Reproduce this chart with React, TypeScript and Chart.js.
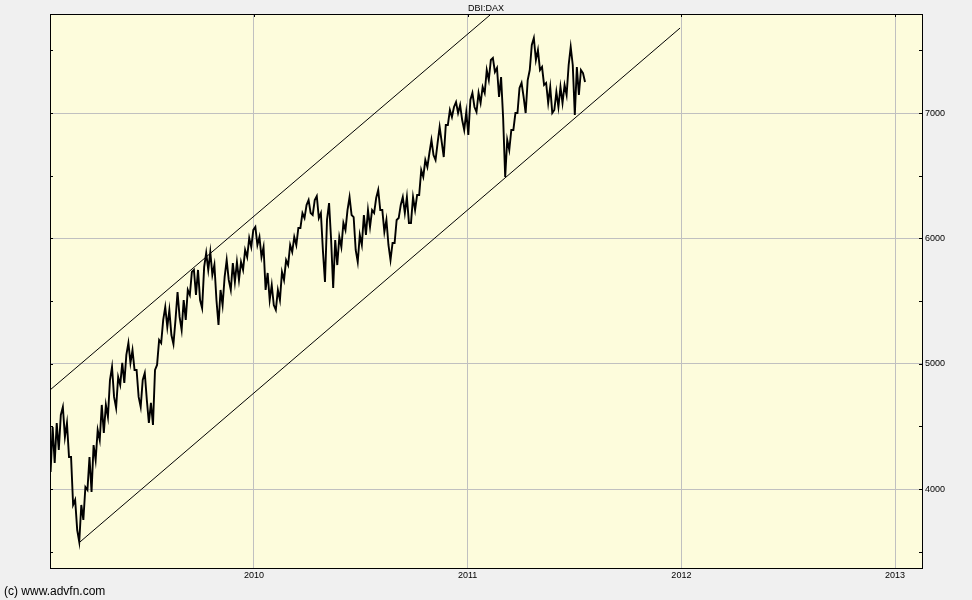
import { useEffect, useRef } from "react";
import { Chart, registerables } from "chart.js";

Chart.register(...registerables);

const TITLE = "DBI:DAX";
const COPYRIGHT = "(c) www.advfn.com";

// axis ranges (fractional years / index points)
const X_MIN = 2009.0454;
const X_MAX = 2013.126;
const Y_MIN = 3370;
const Y_MAX = 7790;

const yearTicks = [2010, 2011, 2012, 2013];
const priceTicks = [4000, 5000, 6000, 7000];
const minorPriceTicks = [3500, 4000, 4500, 5000, 5500, 6000, 6500, 7000, 7500];

// weekly ranges starting at the week of 17 Jan 2009
const firstWeek = 2009.0454;
const weeklyHigh = [
  4495, 4527, 4591, 4655, 4527, 4256, 3913, 3873, 4016, 4256,
  4351, 4471, 4671, 4671, 4870, 4974, 4894, 5006, 5070, 5165,
  5109, 4950, 4870, 4926, 4687, 4950, 5189, 5349, 5452, 5428,
  5349, 5572, 5508, 5588, 5732, 5748, 5748, 5772, 5883, 5891,
  5788, 5588, 5692, 5827, 5803, 5811, 5811, 5907, 6003, 6067,
  6091, 6011, 5931, 5724, 5628, 5588, 5732, 5827, 5947, 6011,
  6083, 6202, 6266, 6306, 6306, 6338, 6202, 6150, 6282, 5987,
  6011, 6123, 6226, 6330, 6170, 6027, 6186, 6226, 6226, 6322,
  6386, 6226, 6147, 5963, 6147, 6266, 6330, 6330, 6330, 6346,
  6545, 6625, 6681, 6785, 6761, 6888, 6904, 7024, 7048, 7088,
  7064, 7008, 7104, 7160, 7160, 7208, 7343, 7423, 7439, 7359,
  7287, 6785, 6865, 7000, 7200, 7240, 7263, 7543, 7599, 7503,
  7367, 7240, 7208, 7168, 7208, 7224, 7383, 7527, 7367, 7343,
  7319,
];
const weeklyLow = [
  4136, 4208, 4312, 4415, 4256, 3873, 3673, 3578, 3753, 3992,
  3976, 4232, 4391, 4447, 4575, 4735, 4647, 4830, 4846, 5006,
  4950, 4735, 4655, 4711, 4527, 4511, 4990, 5165, 5293, 5229,
  5157, 5373, 5269, 5349, 5548, 5548, 5508, 5444, 5748, 5708,
  5508, 5309, 5468, 5668, 5588, 5652, 5668, 5748, 5851, 5931,
  5947, 5851, 5588, 5508, 5468, 5429, 5508, 5668, 5787, 5891,
  5947, 6083, 6162, 6202, 6186, 6162, 5900, 5652, 5987, 5604,
  5787, 5931, 6067, 6186, 5907, 5811, 5947, 6027, 6091, 6202,
  6226, 6051, 5947, 5827, 5963, 6162, 6202, 6123, 6123, 6226,
  6346, 6490, 6569, 6665, 6625, 6769, 6649, 6904, 6968, 7000,
  6944, 6865, 6825, 7048, 7008, 7080, 7160, 7263, 7327, 7128,
  6960, 6490, 6705, 6865, 7000, 7128, 7000, 7343, 7423, 7343,
  7224, 7080, 7000, 7024, 7048, 7080, 7144, 7383, 6984, 7144,
  7247,
];

// trend channel lines
const upperChannelX = [2009.0454, 2011.1046];
const upperChannelY = [4790, 7782];
const lowerChannelX = [2009.1858, 2011.9939];
const lowerChannelY = [3578, 7678];

const FONT = "'Liberation Sans', Arial, sans-serif";

function buildPricePoints() {
  const pts: { x: number; y: number }[] = [];
  const n = weeklyHigh.length;
  for (let i = 0; i < n; i++) {
    const t = firstWeek + (i * 7) / 365.25;
    const up =
      i + 1 < n &&
      weeklyHigh[i + 1] + weeklyLow[i + 1] > weeklyHigh[i] + weeklyLow[i];
    const a = up ? weeklyLow[i] : weeklyHigh[i];
    const b = up ? weeklyHigh[i] : weeklyLow[i];
    pts.push({ x: t + 1 / 365.25, y: a });
    pts.push({ x: t + 4.5 / 365.25, y: b });
  }
  return pts;
}

const framePlugin = {
  id: "advfnFrame",
  beforeDraw(chart: any) {
    const { ctx, chartArea: a } = chart;
    ctx.save();
    ctx.fillStyle = "#F0F0F0";
    ctx.fillRect(0, 0, chart.width, chart.height);
    ctx.fillStyle = "#FDFCDC";
    ctx.fillRect(a.left, a.top, a.right - a.left, a.bottom - a.top);
    ctx.restore();
  },
  afterDraw(chart: any) {
    const { ctx, chartArea: a } = chart;
    const xs = chart.scales.x;
    const ys = chart.scales.y;
    ctx.save();
    ctx.strokeStyle = "#000";
    ctx.lineWidth = 1;
    ctx.strokeRect(a.left + 0.5, a.top + 0.5, a.right - a.left, a.bottom - a.top);
    ctx.beginPath();
    for (const v of minorPriceTicks) {
      const y = Math.round(ys.getPixelForValue(v)) + 0.5;
      ctx.moveTo(a.left, y);
      ctx.lineTo(a.left + 3, y);
      ctx.moveTo(a.right - 3, y);
      ctx.lineTo(a.right + 1, y);
    }
    for (const v of yearTicks) {
      const x = Math.round(xs.getPixelForValue(v)) + 0.5;
      ctx.moveTo(x, a.top);
      ctx.lineTo(x, a.top + 3);
    }
    ctx.stroke();
    ctx.fillStyle = "#000";
    ctx.font = "9px " + FONT;
    ctx.textAlign = "center";
    ctx.textBaseline = "middle";
    ctx.fillText(TITLE, (a.left + a.right) / 2, 8.5);
    ctx.font = "12px " + FONT;
    ctx.textAlign = "left";
    ctx.fillText(COPYRIGHT, 4, 592);
    ctx.restore();
  },
};

export default function App() {
  const ref = useRef<HTMLCanvasElement | null>(null);

  useEffect(() => {
    if (!ref.current) return;
    const chart = new Chart(ref.current, {
      type: "line",
      data: {
        datasets: [
          {
            label: TITLE,
            data: buildPricePoints(),
            borderColor: "#000",
            borderWidth: 1.9,
            pointRadius: 0,
            tension: 0,
          },
          {
            label: "upper",
            data: upperChannelX.map((x, i) => ({ x, y: upperChannelY[i] })),
            borderColor: "#000",
            borderWidth: 1,
            pointRadius: 0,
          },
          {
            label: "lower",
            data: lowerChannelX.map((x, i) => ({ x, y: lowerChannelY[i] })),
            borderColor: "#000",
            borderWidth: 1,
            pointRadius: 0,
          },
        ],
      },
      options: {
        responsive: false,
        animation: false,
        devicePixelRatio: 1,
        layout: { padding: { left: 50, top: 14, right: 0, bottom: 0 } },
        plugins: {
          legend: { display: false },
          tooltip: { enabled: false },
          title: { display: false },
        },
        scales: {
          x: {
            type: "linear",
            position: "bottom",
            min: X_MIN,
            max: X_MAX,
            afterBuildTicks: (s: any) => {
              s.ticks = yearTicks.map((v) => ({ value: v }));
            },
            afterFit: (s: any) => {
              s.height = 32;
            },
            grid: { color: "#C0C0C0", lineWidth: 1, drawTicks: false },
            border: { display: false },
            ticks: {
              color: "#000",
              padding: 2,
              maxRotation: 0,
              autoSkip: false,
              font: { family: FONT, size: 9 },
              callback: (v: any) => String(v),
            },
          },
          y: {
            type: "linear",
            position: "right",
            min: Y_MIN,
            max: Y_MAX,
            afterBuildTicks: (s: any) => {
              s.ticks = priceTicks.map((v) => ({ value: v }));
            },
            afterFit: (s: any) => {
              s.width = 50;
            },
            grid: { color: "#C0C0C0", lineWidth: 1, drawTicks: false },
            border: { display: false },
            ticks: {
              color: "#000",
              padding: 3,
              font: { family: FONT, size: 9 },
              callback: (v: any) => String(v),
            },
          },
        },
      },
      plugins: [framePlugin],
    });
    return () => chart.destroy();
  }, []);

  return (
    <div
      style={{
        position: "absolute",
        left: 0,
        top: 0,
        width: 972,
        height: 600,
        background: "#F0F0F0",
      }}
    >
      <canvas ref={ref} width={972} height={600} style={{ display: "block" }} />
    </div>
  );
}
